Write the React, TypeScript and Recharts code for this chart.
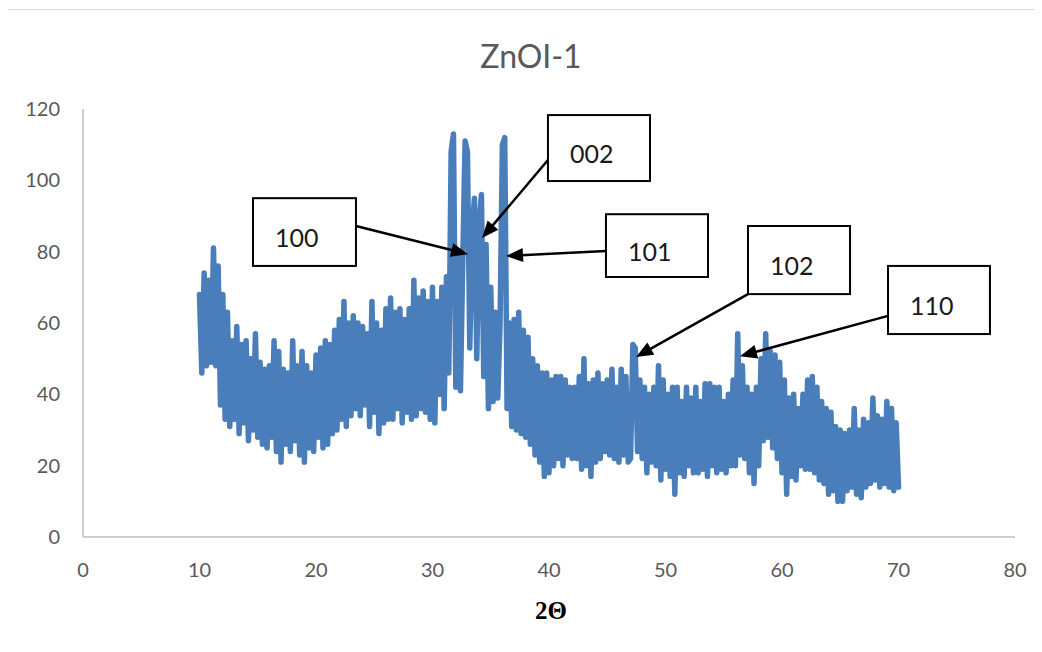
import React from 'react';
import { LineChart, Line, XAxis, YAxis, ReferenceArea, ReferenceLine } from 'recharts';

// 2θ sampling of the pattern (degrees)
const twoThetaStart = 10;
const twoThetaStep = 0.2;

// Intensity, one value per 0.2° step
const intensity10s = [
  68, 46, 74, 48, 72, 49, 81, 48, 76, 37,
  68, 33, 63, 31, 55, 33, 59, 29, 54, 32,
  55, 27, 50, 30, 57, 28, 49, 26, 47, 25,
  48, 28, 55, 24, 52, 21, 47, 26, 46, 24,
  55, 27, 48, 23, 52, 21, 48, 25, 46, 24,
];
const intensity20s = [
  51, 28, 53, 25, 55, 26, 54, 29, 58, 30,
  61, 33, 66, 31, 60, 34, 62, 36, 60, 34,
  59, 37, 57, 31, 66, 35, 60, 29, 58, 32,
  64, 33, 67, 33, 63, 36, 64, 32, 61, 35,
  64, 33, 72, 34, 67, 36, 69, 35, 66, 33,
];
const intensity30s = [
  70, 32, 66, 40, 70, 36, 73, 46, 108, 113,
  42, 80, 41, 78, 111, 108, 53, 86, 95, 50,
  88, 96, 45, 82, 36, 70, 38, 63, 39, 60,
  110, 112, 36, 60, 31, 61, 30, 63, 29, 58,
  28, 56, 26, 50, 23, 48, 21, 46, 17, 46,
];
const intensity40s = [
  18, 44, 20, 45, 22, 45, 20, 44, 23, 42,
  22, 42, 22, 45, 19, 50, 20, 43, 17, 44,
  21, 46, 22, 43, 24, 44, 23, 47, 22, 42,
  21, 47, 23, 45, 21, 22, 54, 53, 24, 44,
  22, 42, 18, 40, 21, 42, 20, 48, 16, 44,
];
const intensity50s = [
  19, 40, 17, 42, 12, 42, 18, 38, 17, 42,
  20, 39, 18, 42, 18, 38, 19, 43, 17, 43,
  20, 42, 18, 42, 19, 38, 18, 40, 20, 44,
  20, 57, 23, 48, 22, 42, 18, 40, 15, 42,
  20, 50, 27, 57, 28, 52, 25, 51, 22, 49,
];
const intensity60s = [
  18, 44, 12, 39, 17, 40, 16, 36, 20, 40,
  19, 44, 19, 45, 18, 42, 16, 38, 15, 36,
  12, 35, 13, 31, 10, 30, 10, 29, 13, 30,
  14, 36, 12, 30, 11, 33, 14, 32, 15, 39,
  16, 34, 14, 33, 15, 38, 14, 36, 13, 32,
  14,
];

const xTicks = [0, 10, 20, 30, 40, 50, 60, 70, 80];
const yTicks = [0, 20, 40, 60, 80, 100, 120];

// Peak labels: box corners and arrow (from -> tip), in data units
const peakLabels = ['100', '002', '101', '102', '110'];
const boxX1 = [14.59, 39.91, 44.89, 57.08, 69.1];
const boxX2 = [23.43, 48.67, 53.65, 65.84, 77.85];
const boxYTop = [95.0, 118.3, 90.5, 87.2, 76.0];
const boxYBottom = [76.0, 99.8, 72.9, 68.1, 56.9];
const arrowFromX = [23.43, 39.91, 44.89, 57.08, 69.1];
const arrowFromY = [87.2, 105.7, 80.2, 68.1, 62.0];
const arrowTipX = [33.05, 34.25, 36.31, 47.47, 56.39];
const arrowTipY = [79.3, 83.8, 78.8, 50.5, 50.7];

const allIntensity = [
  ...intensity10s,
  ...intensity20s,
  ...intensity30s,
  ...intensity40s,
  ...intensity50s,
  ...intensity60s,
];
const data = allIntensity.map((v, i) => ({
  t: Math.round((twoThetaStart + i * twoThetaStep) * 100) / 100,
  v,
}));

const tickFont = { fontFamily: 'Lato, "Open Sans", sans-serif', fontSize: 20, fill: '#595959' };

const makeBox = (label: string) => (p: any) => (
  <g>
    <rect x={p.x} y={p.y} width={p.width} height={p.height} fill="#ffffff" stroke="#000000" strokeWidth={2} />
    <text
      x={p.x + 22}
      y={p.y + p.height / 2 + 5}
      dominantBaseline="central"
      fontFamily='Lato, "Open Sans", sans-serif'
      fontSize={25}
      fill="#1a1a1a"
    >
      {label}
    </text>
  </g>
);

const arrowShape = (p: any) => {
  const { x1, y1, x2, y2 } = p;
  const dx = x2 - x1;
  const dy = y2 - y1;
  const len = Math.sqrt(dx * dx + dy * dy) || 1;
  const ux = dx / len;
  const uy = dy / len;
  const headLen = 17;
  const headHalf = 7;
  const bx = x2 - ux * headLen;
  const by = y2 - uy * headLen;
  const px = -uy;
  const py = ux;
  return (
    <g>
      <line x1={x1} y1={y1} x2={bx + ux * 2} y2={by + uy * 2} stroke="#000" strokeWidth={2.5} />
      <polygon
        points={`${x2},${y2} ${bx + px * headHalf},${by + py * headHalf} ${bx - px * headHalf},${by - py * headHalf}`}
        fill="#000"
      />
    </g>
  );
};

export default function App() {
  return (
    <div style={{ position: 'relative', width: 1042, height: 652, margin: -8, overflow: 'hidden', background: '#fff' }}>
      <div
        style={{
          position: 'absolute',
          left: 6,
          top: 9,
          width: 1100,
          height: 700,
          border: '1.5px solid #d9d9d9',
          boxSizing: 'border-box',
        }}
      />
      <div style={{ position: 'absolute', left: 0, top: 0 }}>
        <LineChart width={1042} height={652} data={data} margin={{ top: 109, right: 27, bottom: 0, left: 0 }}>
          <XAxis
            type="number"
            dataKey="t"
            domain={[0, 80]}
            ticks={xTicks}
            interval={0}
            height={115}
            tickLine={false}
            tickMargin={20}
            axisLine={{ stroke: '#bfbfbf', strokeWidth: 1.5 }}
            tick={tickFont}
          />
          <YAxis
            type="number"
            domain={[0, 120]}
            ticks={yTicks}
            interval={0}
            width={83}
            tickLine={false}
            tickMargin={17}
            axisLine={{ stroke: '#bfbfbf', strokeWidth: 1.5 }}
            tick={tickFont}
          />
          <Line
            type="linear"
            dataKey="v"
            stroke="#4a7ebb"
            strokeWidth={5.5}
            strokeLinejoin="round"
            strokeLinecap="round"
            dot={false}
            activeDot={false}
            isAnimationActive={false}
          />
          {peakLabels.map((lab, i) => (
            <ReferenceLine
              key={'a' + lab}
              segment={[
                { x: arrowFromX[i], y: arrowFromY[i] },
                { x: arrowTipX[i], y: arrowTipY[i] },
              ]}
              shape={arrowShape}
            />
          ))}
          {peakLabels.map((lab, i) => (
            <ReferenceArea
              key={'b' + lab}
              x1={boxX1[i]}
              x2={boxX2[i]}
              y1={boxYBottom[i]}
              y2={boxYTop[i]}
              shape={makeBox(lab)}
            />
          ))}
        </LineChart>
      </div>
      <div
        style={{
          position: 'absolute',
          left: 0,
          top: 40,
          width: 1062,
          textAlign: 'center',
          fontFamily: 'Lato, "Open Sans", sans-serif',
          fontSize: 32,
          lineHeight: '32px',
          color: '#595959',
        }}
      >
        ZnOI-1
      </div>
      <div
        style={{
          position: 'absolute',
          left: 0,
          top: 598,
          width: 1102,
          textAlign: 'center',
          fontFamily: '"Liberation Serif", "DejaVu Serif", serif',
          fontWeight: 'bold',
          fontSize: 25,
          lineHeight: '25px',
          color: '#000',
        }}
      >
        2Θ
      </div>
    </div>
  );
}
